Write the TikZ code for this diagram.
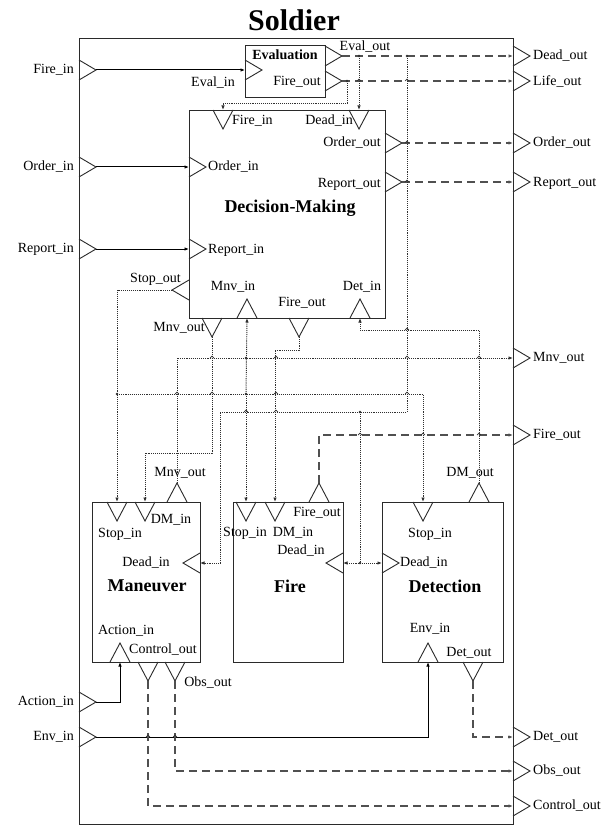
\documentclass[tikz,border=0pt]{standalone}
\usepackage{fontspec}
\setmainfont{Liberation Serif}
\usetikzlibrary{arrows.meta}
\definecolor{boxc}{HTML}{2A2A2A}
\definecolor{dashc}{HTML}{505050}
\definecolor{dotc}{HTML}{303030}
\tikzset{
  blk/.style={draw=boxc, line width=1.2pt, inner sep=0pt, anchor=north west},
  portst/.style={draw=boxc, line width=0.9pt, line join=miter},
  pR/.pic={\draw[portst] (0,-10) -- (17,0) -- (0,10);},
  pL/.pic={\draw[portst] (0,-10) -- (-17,0) -- (0,10);},
  pD/.pic={\draw[portst] (-10,0) -- (0,19) -- (10,0);},
  pU/.pic={\draw[portst] (-10,0) -- (0,-19) -- (10,0);},
  hop/.pic={\draw[draw=dotc, line width=0.7pt] (-1.8,0) arc (180:360:1.8);},
  lab/.style={inner sep=0pt, font=\fontsize{14}{16}\selectfont},
  btitle/.style={inner sep=0pt, font=\fontsize{18}{20}\selectfont\bfseries},
  solidw/.style={draw=black, line width=1pt},
  dashw/.style={draw=dashc, line width=1.3pt, dash pattern=on 8pt off 5pt},
  dotw/.style={draw=dotc, line width=0.95pt, dash pattern=on 1.1pt off 1pt},
  jdot/.style={fill=dotc, draw=none},
}
\begin{document}
\begin{tikzpicture}[x=1pt, y=-1pt, >={Latex[length=4.5pt,width=3.5pt]}]
\useasboundingbox (0,0) rectangle (614,829);
\fill[white] (0,0) rectangle (614,829);

% ---------- title and outer box
\node[inner sep=0pt, font=\fontsize{30}{32}\selectfont\bfseries] (title) at (294,20) {Soldier};
\node[blk, minimum width=434pt, minimum height=786pt] (sol) at (79,38) {};

% ---------- inner blocks
\node[blk, minimum width=80pt, minimum height=52pt] (ev) at (245,45) {};
\node[blk, minimum width=196pt, minimum height=208pt] (dm) at (189,110) {};
\node[blk, minimum width=108pt, minimum height=160pt] (mv) at (92,502) {};
\node[blk, minimum width=110pt, minimum height=160pt] (fi) at (233,502) {};
\node[blk, minimum width=121pt, minimum height=160pt] (dt) at (382,502) {};

% ---------- soldier ports
\coordinate (sFib) at (79,70);  \coordinate (sFi) at (96,70);
\coordinate (sOib) at (79,167); \coordinate (sOi) at (96,167);
\coordinate (sRib) at (79,249); \coordinate (sRi) at (96,249);
\coordinate (sAib) at (79,702); \coordinate (sAi) at (96,702);
\coordinate (sEib) at (79,737); \coordinate (sEi) at (96,737);
\coordinate (sDo) at (513,56);
\coordinate (sLo) at (513,81);
\coordinate (sOo) at (513,143);
\coordinate (sRo) at (513,182);
\coordinate (sMo) at (513,358);
\coordinate (sFo) at (513,435);
\coordinate (sTo) at (513,737);
\coordinate (sBo) at (513,771);
\coordinate (sCo) at (513,806);
\foreach \p in {sFib,sOib,sRib,sAib,sEib,sDo,sLo,sOo,sRo,sMo,sFo,sTo,sBo,sCo} {\pic at (\p) {pR};}

\node[lab, anchor=east] (lFi) at (74,70) {Fire\_in};
\node[lab, anchor=east] (lOi) at (74,167) {Order\_in};
\node[lab, anchor=east] (lRi) at (74,249) {Report\_in};
\node[lab, anchor=east] (lAi) at (74,702) {Action\_in};
\node[lab, anchor=east] (lEi) at (74,737) {Env\_in};
\node[lab, anchor=west] (lDo) at (533,56) {Dead\_out};
\node[lab, anchor=west] (lLo) at (533,81) {Life\_out};
\node[lab, anchor=west] (lOo) at (533,143) {Order\_out};
\node[lab, anchor=west] (lRo) at (533,183) {Report\_out};
\node[lab, anchor=west] (lMo) at (533,358) {Mnv\_out};
\node[lab, anchor=west] (lFo) at (533,435) {Fire\_out};
\node[lab, anchor=west] (lTo) at (533,737) {Det\_out};
\node[lab, anchor=west] (lBo) at (533,771) {Obs\_out};
\node[lab, anchor=west] (lCo) at (533,806) {Control\_out};

% ---------- evaluation ports
\coordinate (evIn) at (245,70);
\coordinate (evOut) at (325,56); \coordinate (evOutT) at (342,56);
\coordinate (evFo) at (325,81);  \coordinate (evFoT) at (342,81);
\pic at (evIn) {pR}; \pic at (evOut) {pR}; \pic at (evFo) {pR};
\node[inner sep=0pt, font=\fontsize{14}{16}\selectfont\bfseries] (tEv) at (285,55) {Evaluation};
\node[lab] (lEvIn) at (213,83) {Eval\_in};
\node[lab] (lEvFo) at (297,82) {Fire\_out};
\node[lab] (lEvOut) at (365,47) {Eval\_out};

% ---------- decision-making ports
\coordinate (dmFi) at (223,110);
\coordinate (dmDi) at (359,110);
\coordinate (dmOi) at (189,167);
\coordinate (dmRi) at (189,249);
\coordinate (dmOo) at (385,143); \coordinate (dmOoT) at (402,143);
\coordinate (dmRo) at (385,182); \coordinate (dmRoT) at (402,182);
\coordinate (dmSo) at (189,290); \coordinate (dmSoT) at (172,290);
\coordinate (dmMo) at (212,318); \coordinate (dmMoT) at (212,337);
\coordinate (dmMi) at (247,318);
\coordinate (dmFo) at (299,318); \coordinate (dmFoT) at (299,337);
\coordinate (dmDt) at (360,318);
\pic at (dmFi) {pD}; \pic at (dmDi) {pD};
\pic at (dmOi) {pR}; \pic at (dmRi) {pR};
\pic at (dmOo) {pR}; \pic at (dmRo) {pR};
\pic at (dmSo) {pL};
\pic at (dmMo) {pD}; \pic at (dmMi) {pU};
\pic at (dmFo) {pD}; \pic at (dmDt) {pU};
\node[btitle] (tDm) at (290,208) {Decision-Making};
\node[lab, anchor=west] (lDmFi) at (232,121) {Fire\_in};
\node[lab, anchor=east] (lDmDi) at (353,121) {Dead\_in};
\node[lab, anchor=west] (lDmOi) at (208,167) {Order\_in};
\node[lab, anchor=west] (lDmRi) at (208,250) {Report\_in};
\node[lab, anchor=east] (lDmOo) at (381,143) {Order\_out};
\node[lab, anchor=east] (lDmRo) at (381,184) {Report\_out};
\node[lab, anchor=east] (lDmSo) at (181,279) {Stop\_out};
\node[lab] (lDmMi) at (233,287) {Mnv\_in};
\node[lab] (lDmFo) at (302,303) {Fire\_out};
\node[lab] (lDmDt) at (362,287) {Det\_in};
\node[lab, anchor=east] (lDmMo) at (205,328) {Mnv\_out};

% ---------- maneuver ports
\coordinate (mvSi) at (117,502);
\coordinate (mvDi) at (145,502);
\coordinate (mvMo) at (177,502); \coordinate (mvMoT) at (177,483);
\coordinate (mvDe) at (200,563);
\coordinate (mvAi) at (120,662);
\coordinate (mvCo) at (148,662); \coordinate (mvCoT) at (148,681);
\coordinate (mvOo) at (175,662); \coordinate (mvOoT) at (175,681);
\pic at (mvSi) {pD}; \pic at (mvDi) {pD}; \pic at (mvMo) {pU};
\pic at (mvDe) {pL}; \pic at (mvAi) {pU}; \pic at (mvCo) {pD}; \pic at (mvOo) {pD};
\node[btitle] (tMv) at (147,586) {Maneuver};
\node[lab] (lMvSi) at (120,534) {Stop\_in};
\node[lab] (lMvDi) at (171,520) {DM\_in};
\node[lab] (lMvDe) at (146,563) {Dead\_in};
\node[lab] (lMvAi) at (126,631) {Action\_in};
\node[lab] (lMvCo) at (163,650) {Control\_out};
\node[lab] (lMvOo) at (208,683) {Obs\_out};
\node[lab] (lMvMo) at (180,473) {Mnv\_out};

% ---------- fire ports
\coordinate (fiSi) at (246,502);
\coordinate (fiDi) at (275,502);
\coordinate (fiFo) at (319,502); \coordinate (fiFoT) at (319,483);
\coordinate (fiDe) at (343,563);
\pic at (fiSi) {pD}; \pic at (fiDi) {pD}; \pic at (fiFo) {pU}; \pic at (fiDe) {pL};
\node[btitle] (tFi) at (290,586) {Fire};
\node[lab] (lFiSi) at (245,533) {Stop\_in};
\node[lab] (lFiDi) at (293,533) {DM\_in};
\node[lab] (lFiFo) at (317,513) {Fire\_out};
\node[lab] (lFiDe) at (301,551) {Dead\_in};

% ---------- detection ports
\coordinate (dtSi) at (423,502);
\coordinate (dtDo) at (479,502); \coordinate (dtDoT) at (479,483);
\coordinate (dtDe) at (382,563);
\coordinate (dtEi) at (428,662);
\coordinate (dtTo) at (473,662); \coordinate (dtToT) at (473,681);
\pic at (dtSi) {pD}; \pic at (dtDo) {pU}; \pic at (dtDe) {pR};
\pic at (dtEi) {pU}; \pic at (dtTo) {pD};
\node[btitle] (tDt) at (445,586) {Detection};
\node[lab] (lDtSi) at (430,534) {Stop\_in};
\node[lab] (lDtDo) at (470,473) {DM\_out};
\node[lab, anchor=west] (lDtDe) at (400,563) {Dead\_in};
\node[lab] (lDtEi) at (430,629) {Env\_in};
\node[lab] (lDtTo) at (469,653) {Det\_out};

% ---------- junction coordinates
\coordinate (j1) at (359,56);
\coordinate (j2) at (347,81);
\coordinate (j3) at (407,56);
\coordinate (dbus) at (220,412);
\coordinate (j4) at (360,412);
\coordinate (j4b) at (360,563);
\coordinate (j5) at (117,394);
\coordinate (j6) at (246,394);
\coordinate (j7) at (246,358);
\coordinate (b1) at (145,453);

% ---------- solid inputs
\draw[solidw,->] (sFi) -- (evIn);
\draw[solidw,->] (sOi) -- (dmOi);
\draw[solidw,->] (sRi) -- (dmRi);
\draw[solidw,->] (sAi) -| (mvAi);
\draw[solidw,->] (sEi) -| (dtEi);

% ---------- dashed outputs
\draw[dashw,->] (evOutT) -- (sDo);
\draw[dashw,->] (evFoT) -- (sLo);
\draw[dashw,->] (dmOoT) -- (sOo);
\draw[dashw,->] (dmRoT) -- (sRo);
\draw[dashw,->] (fiFoT) |- (sFo);
\draw[dashw,->] (dtToT) |- (sTo);
\draw[dashw,->] (mvOoT) |- (sBo);
\draw[dashw,->] (mvCoT) |- (sCo);

% ---------- dotted internal couplings
\draw[dotw,->] (j1) -- (dmDi);
\draw[dotw,->] (j2) -- ++(0,22) -| (dmFi);
\draw[dotw,->] (j3) |- (dbus) |- (mvDe);
\draw[dotw] (j4) -- (j4b);
\draw[dotw,<->] (fiDe) -- (dtDe);
\draw[dotw,->] (dmSoT) -| (mvSi);
\draw[dotw,->] (j5) -| (dtSi);
\draw[dotw,->] (j6) -- (fiSi);
\draw[dotw,->] (mvMoT) |- (sMo);
\draw[dotw,->] (j6) -- (dmMi);
\draw[dotw,->] (dmMoT) |- (b1) -- (mvDi);
\draw[dotw,->] (dmFoT) -- ++(0,13) -| (fiDi);
\draw[dotw,->] (dtDoT) -- ++(0,-153) -| (dmDt);

% ---------- junction dots
\foreach \j in {j1,j2,j3,j4,j4b,j5,j6,j7} {\fill[jdot] (\j) circle (1.4pt);}
% ---------- crossing hops
\foreach \h in {(359,81),(407,81),(407,143),(407,182),(407,330),
                (212,358),(276,358),(407,358),(479,358),
                (177,394),(212,394),(276,394),(407,394),
                (246,412),(276,412),
                (360,435),(423,435),(479,435),
                (148,737),(175,737)} {\pic at \h {hop};}
\end{tikzpicture}
\end{document}
